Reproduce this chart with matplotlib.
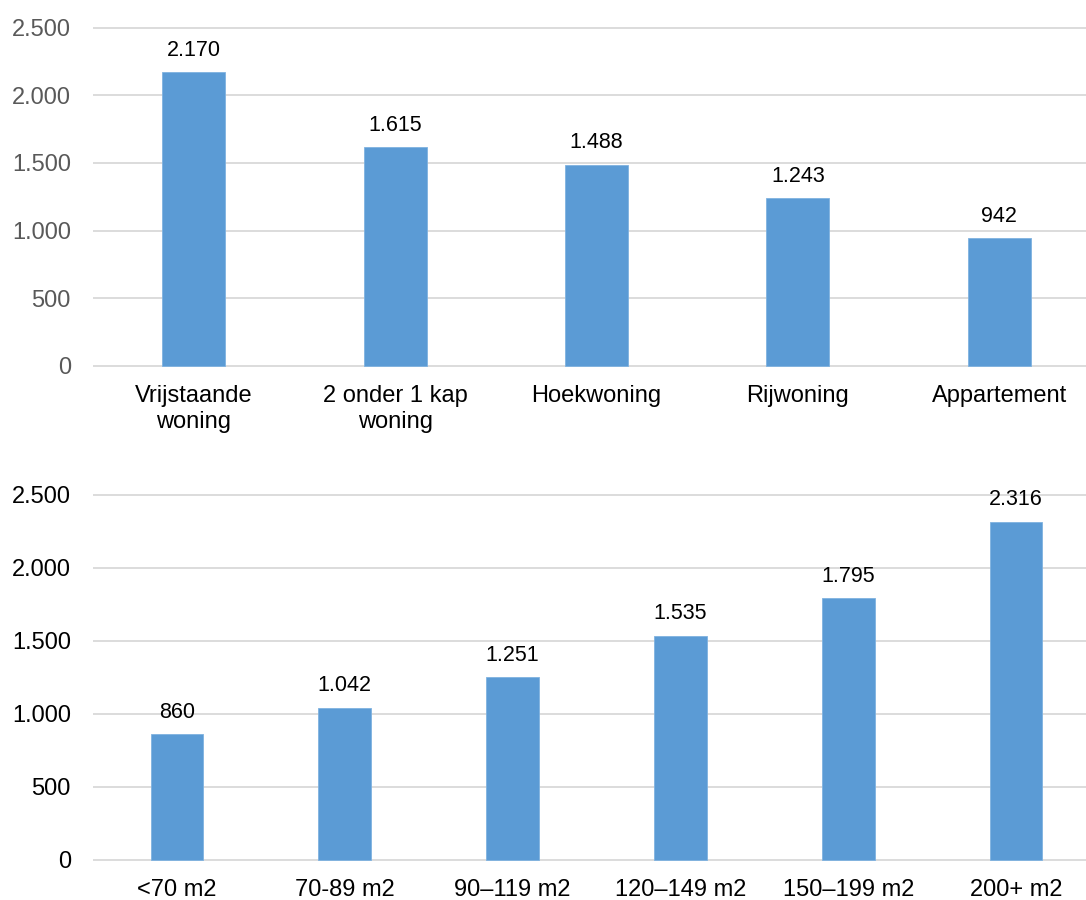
import numpy as np
import matplotlib
matplotlib.use("Agg")
import matplotlib.pyplot as plt
from matplotlib.ticker import FixedLocator

plt.rcParams['font.family'] = ['Liberation Sans', 'DejaVu Sans']

# --- Data ---
woningtype = ['Vrijstaande\nwoning', '2 onder 1 kap\nwoning', 'Hoekwoning', 'Rijwoning', 'Appartement']
woningtype_waarde = [2170, 1615, 1488, 1243, 942]

oppervlakte = ['<70 m2', '70-89 m2', '90\u2013119 m2', '120\u2013149 m2', '150\u2013199 m2', '200+ m2']
oppervlakte_waarde = [860, 1042, 1251, 1535, 1795, 2316]

y_ticks = [0, 500, 1000, 1500, 2000, 2500]
y_ticklabels = ['0', '500', '1.000', '1.500', '2.000', '2.500']

bar_color = '#5B9BD5'
grid_color = '#D9D9D9'

W, H = 1086, 900
fig = plt.figure(figsize=(W / 100, H / 100), dpi=100)


def fmt(v):
    return f'{v:,}'.replace(',', '.')


def draw_panel(ax, labels, values, tick_color):
    x = np.arange(len(labels))
    ax.bar(x, values, width=0.313, color=bar_color, edgecolor='#7FB2E0', linewidth=0.6, zorder=3)
    for xi, v in zip(x, values):
        ax.annotate(fmt(v), (xi, v), xytext=(0, 8), textcoords='offset points',
                    ha='center', va='bottom', fontsize=15.5, color='black')
    ax.set_xlim(-0.5, len(labels) - 0.5)
    ax.set_ylim(-20, 2520)
    ax.yaxis.set_major_locator(FixedLocator(y_ticks))
    ax.set_yticklabels(y_ticklabels)
    ax.set_xticks(x)
    ax.set_xticklabels(labels, fontsize=17, color='black')
    ax.tick_params(axis='y', length=0, pad=16, labelsize=17, labelcolor=tick_color)
    ax.tick_params(axis='x', length=0, pad=12)
    ax.grid(axis='y', color=grid_color, linewidth=1.3, zorder=0)
    for s in ax.spines.values():
        s.set_visible(False)


def place(top_px, bottom_px, left_px=93, right_px=1100):
    # axes box in pixels -> figure fractions (right edge runs past the figure)
    return [left_px / W, 1 - bottom_px / H, (right_px - left_px) / W, (bottom_px - top_px) / H]


ax1 = fig.add_axes(place(25.0, 368.5))
draw_panel(ax1, woningtype, woningtype_waarde, '#595959')

ax2 = fig.add_axes(place(491.8, 862.6))
draw_panel(ax2, oppervlakte, oppervlakte_waarde, 'black')

fig.savefig('out.png', dpi=100)
